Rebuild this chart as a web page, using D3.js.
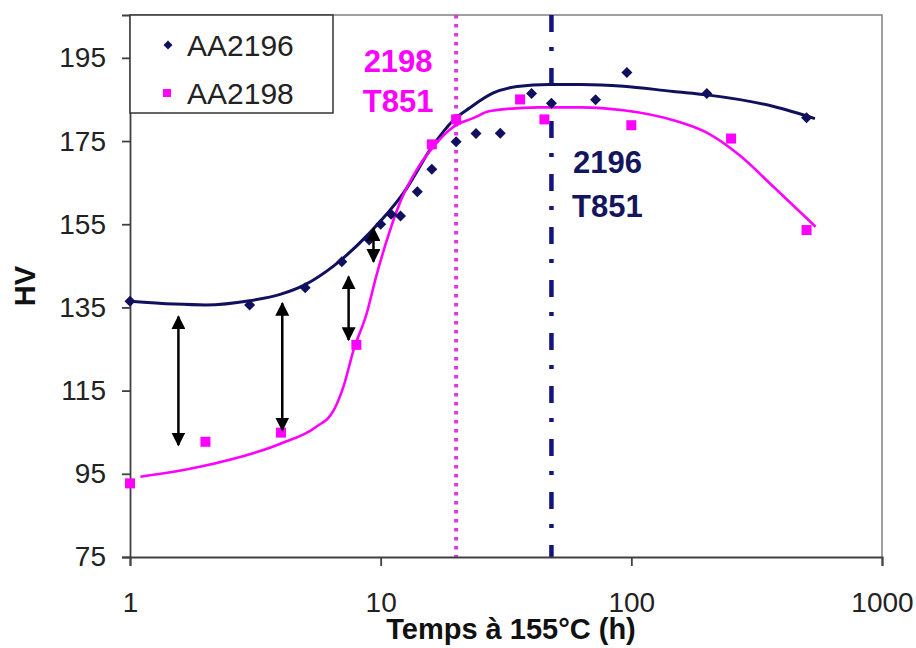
<!DOCTYPE html>
<html><head><meta charset="utf-8">
<script src="https://cdn.jsdelivr.net/npm/d3@7"></script>
<style>body{margin:0;background:#fff}svg{display:block}</style>
</head><body>
<svg id="c" width="916" height="648"></svg>
<script>
// ---- data ----
const times2196 = [1, 3, 5, 7, 9, 10, 11, 12, 14, 16, 20, 24, 30, 40, 48, 72, 96, 200, 500];
const hv2196    = [136.5, 135.6, 139.7, 146, 151.2, 155, 157.4, 157, 162.8, 168.2, 174.8, 176.8, 176.9, 186.4, 184.1, 184.9, 191.5, 186.4, 180.6];
const times2198 = [1, 2, 4, 8, 16, 20, 36, 45, 100, 250, 500];
const hv2198    = [92.7, 102.7, 104.9, 126, 174.2, 180.2, 185, 180.2, 178.8, 175.6, 153.6];

// trend curves
const fitT2196  = [1, 1.5, 2, 3, 4, 5, 6.5, 9, 12.3, 16.2, 19.5, 22.7, 28, 35, 47, 63, 93, 147, 200, 370, 540];
const fitHV2196 = [136.5, 135.8, 135.6, 136.6, 138.2, 140.5, 145, 152.8, 162.4, 174, 180, 183, 186.5, 188.1, 188.6, 188.6, 188.2, 186.9, 186.1, 183.3, 180.4];
const fitT2198  = [1.1, 1.9, 4, 5.5, 6.5, 7.1, 7.8, 8.8, 9.6, 10.5, 11.9, 13.9, 16.2, 19.5, 23.4, 27.3, 43, 63, 93, 147, 200, 271, 369, 543];
const fitHV2198 = [94.3, 96.7, 102.3, 106.2, 110.3, 115.9, 124.8, 133.6, 142.5, 150.5, 160, 168, 173.6, 178.4, 180.5, 182.2, 183.1, 183.1, 182.4, 180, 177, 171.5, 164, 154.4];

// double arrows showing the hardness gap
const arrowT      = [1.56, 4.05, 7.45, 9.36];
const arrowTop    = [132.8, 136.0, 142.4, 154.0];
const arrowBottom = [101.9, 105.5, 127.2, 146.0];

// T851 reference times and labels
const t851Times  = [20, 48];
const t851Labels = [["2198", "T851"], ["2196", "T851"]];

const yTicks = [75, 95, 115, 135, 155, 175, 195];
const xTicks = [1, 10, 100, 1000];
const seriesNames = ["AA2196", "AA2198"];

// ---- drawing ----
const NAVY = "#10105e", MAG = "#ff00ff", FONT = "'Liberation Sans', Arial, sans-serif";
const svg = d3.select("#c");
const x = d3.scaleLog().domain([1, 1000]).range([130, 882]);
const y = d3.scaleLinear().domain([75, 205.3]).range([557, 15]);

// plot frame (top & right)
svg.append("path").attr("d", `M${x(1)},${y(205.3)}H${x(1000)}V${y(75)}`)
  .attr("fill", "none").attr("stroke", "#808080").attr("stroke-width", 1.5);

// vertical T851 lines
svg.append("line").attr("x1", x(t851Times[0])).attr("x2", x(t851Times[0]))
  .attr("y1", y(205.3)).attr("y2", y(75))
  .attr("stroke", "#e236e2").attr("stroke-width", 4).attr("stroke-dasharray", "3.5,5.5");
svg.append("line").attr("x1", x(t851Times[1])).attr("x2", x(t851Times[1]))
  .attr("y1", y(205.3)).attr("y2", y(75))
  .attr("stroke", "#141480").attr("stroke-width", 4.5).attr("stroke-dasharray", "17,15,4,17");

// axes
const yAxis = svg.append("g").attr("transform", `translate(${x(1)},0)`)
  .call(d3.axisLeft(y).tickValues(yTicks).tickSize(8).tickPadding(16).tickFormat(d3.format("d")));
const xAxis = svg.append("g").attr("transform", `translate(0,${y(75)})`)
  .call(d3.axisBottom(x).tickValues(xTicks).tickSize(9).tickPadding(26).tickFormat(d3.format("d")));
[yAxis, xAxis].forEach(g => {
  g.select(".domain").attr("stroke", "#404040").attr("stroke-width", 1.8);
  g.selectAll(".tick line").attr("stroke", "#404040").attr("stroke-width", 1.8);
  g.selectAll(".tick text").attr("font-family", FONT).attr("font-size", 28).attr("fill", "#222");
});

// axis titles
svg.append("text").attr("x", 511).attr("y", 639).attr("text-anchor", "middle")
  .attr("font-family", FONT).attr("font-weight", "bold").attr("font-size", 29).attr("fill", "#111")
  .text("Temps à 155°C (h)");
svg.append("text").attr("transform", `translate(35,${(y(75) + y(205.3)) / 2}) rotate(-90)`)
  .attr("text-anchor", "middle")
  .attr("font-family", FONT).attr("font-weight", "bold").attr("font-size", 29).attr("fill", "#111")
  .text("HV");

// trend curves
const line = d3.line().x(d => x(d[0])).y(d => y(d[1])).curve(d3.curveMonotoneX);
svg.append("path").datum(d3.zip(fitT2196, fitHV2196)).attr("d", line)
  .attr("fill", "none").attr("stroke", NAVY).attr("stroke-width", 3);
svg.append("path").datum(d3.zip(fitT2198, fitHV2198)).attr("d", line)
  .attr("fill", "none").attr("stroke", MAG).attr("stroke-width", 2.6);

// markers
const diamond = s => `M0,${-s}L${s},0L0,${s}L${-s},0Z`;
svg.append("g").selectAll("path").data(d3.zip(times2196, hv2196)).join("path")
  .attr("transform", d => `translate(${x(d[0])},${y(d[1])})`)
  .attr("d", diamond(5.5)).attr("fill", NAVY);
svg.append("g").selectAll("rect").data(d3.zip(times2198, hv2198)).join("rect")
  .attr("x", d => x(d[0]) - 5).attr("y", d => y(d[1]) - 5)
  .attr("width", 10).attr("height", 10).attr("fill", MAG);

// arrows
const defs = svg.append("defs");
defs.append("marker").attr("id", "ah").attr("viewBox", "0 0 10 10")
  .attr("refX", 9).attr("refY", 5).attr("markerWidth", 14).attr("markerHeight", 14)
  .attr("markerUnits", "userSpaceOnUse").attr("orient", "auto-start-reverse")
  .append("path").attr("d", "M0,0L10,5L0,10Z").attr("fill", "#000");
svg.append("g").selectAll("line").data(d3.range(arrowT.length)).join("line")
  .attr("x1", i => x(arrowT[i])).attr("x2", i => x(arrowT[i]))
  .attr("y1", i => y(arrowTop[i])).attr("y2", i => y(arrowBottom[i]))
  .attr("stroke", "#000").attr("stroke-width", 2.5)
  .attr("marker-start", "url(#ah)").attr("marker-end", "url(#ah)");

// T851 labels
const labelPos = [[x(t851Times[0]) - 58, [72, 112], MAG], [x(t851Times[1]) + 56, [173, 217], "#15155e"]];
labelPos.forEach((p, i) => {
  t851Labels[i].forEach((s, j) => {
    svg.append("text").attr("x", p[0]).attr("y", p[1][j]).attr("text-anchor", "middle")
      .attr("font-family", FONT).attr("font-weight", "bold").attr("font-size", 31).attr("fill", p[2])
      .text(s);
  });
});

// legend
const lg = svg.append("g");
lg.append("rect").attr("x", 130).attr("y", 15).attr("width", 203).attr("height", 98)
  .attr("fill", "#fff").attr("stroke", "#333").attr("stroke-width", 1.5);
lg.append("path").attr("transform", "translate(168,45)").attr("d", diamond(4.5)).attr("fill", NAVY);
lg.append("rect").attr("x", 163).attr("y", 89).attr("width", 8).attr("height", 8).attr("fill", MAG);
seriesNames.forEach((n, i) => {
  lg.append("text").attr("x", 187).attr("y", 56 + i * 48)
    .attr("font-family", FONT).attr("font-size", 30).attr("fill", "#222").text(n);
});
</script>
</body></html>
